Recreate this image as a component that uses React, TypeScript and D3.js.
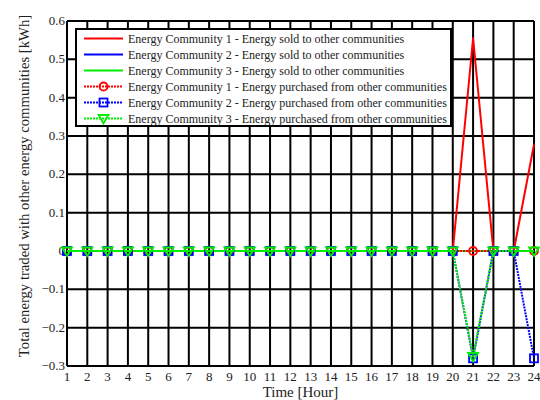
import React, { useEffect, useRef } from 'react';
import * as d3 from 'd3';

const hours = d3.range(1, 25);
const soldEC1 = [0, 0, 0, 0, 0, 0, 0, 0, 0, 0, 0, 0, 0, 0, 0, 0, 0, 0, 0, 0, 0.555, 0, 0, 0.278];
const soldEC2 = [0, 0, 0, 0, 0, 0, 0, 0, 0, 0, 0, 0, 0, 0, 0, 0, 0, 0, 0, 0, 0, 0, 0, 0];
const soldEC3 = [0, 0, 0, 0, 0, 0, 0, 0, 0, 0, 0, 0, 0, 0, 0, 0, 0, 0, 0, 0, 0, 0, 0, 0];
const purchEC1 = [0, 0, 0, 0, 0, 0, 0, 0, 0, 0, 0, 0, 0, 0, 0, 0, 0, 0, 0, 0, 0, 0, 0, 0];
const purchEC2 = [0, 0, 0, 0, 0, 0, 0, 0, 0, 0, 0, 0, 0, 0, 0, 0, 0, 0, 0, 0, -0.28, 0, 0, -0.28];
const purchEC3 = [0, 0, 0, 0, 0, 0, 0, 0, 0, 0, 0, 0, 0, 0, 0, 0, 0, 0, 0, 0, -0.275, 0, 0, 0];
const yTicks = [-0.3, -0.2, -0.1, 0, 0.1, 0.2, 0.3, 0.4, 0.5, 0.6];

const series = [
  { name: 'Energy Community 1 - Energy sold to other communities', values: soldEC1, color: '#ff0000', dashed: false, marker: null },
  { name: 'Energy Community 2 - Energy sold to other communities', values: soldEC2, color: '#0000ff', dashed: false, marker: null },
  { name: 'Energy Community 3 - Energy sold to other communities', values: soldEC3, color: '#00ee00', dashed: false, marker: null },
  { name: 'Energy Community 1 - Energy purchased from other communities', values: purchEC1, color: '#ff0000', dashed: true, marker: 'circle' },
  { name: 'Energy Community 2 - Energy purchased from other communities', values: purchEC2, color: '#0000ff', dashed: true, marker: 'square' },
  { name: 'Energy Community 3 - Energy purchased from other communities', values: purchEC3, color: '#00ee00', dashed: true, marker: 'triangle' },
];

const FONT = "'Liberation Serif', 'DejaVu Serif', serif";

function drawMarker(g: any, type: string | null, cx: number, cy: number, color: string) {
  if (type === 'circle') {
    g.append('circle').attr('cx', cx).attr('cy', cy).attr('r', 4)
      .attr('fill', 'none').attr('stroke', color).attr('stroke-width', 1.8);
  } else if (type === 'square') {
    g.append('rect').attr('x', cx - 4).attr('y', cy - 4).attr('width', 8).attr('height', 8)
      .attr('fill', 'none').attr('stroke', color).attr('stroke-width', 1.8);
  } else if (type === 'triangle') {
    g.append('path')
      .attr('d', `M${cx - 5},${cy - 3.5}L${cx + 5},${cy - 3.5}L${cx},${cy + 5}Z`)
      .attr('fill', 'none').attr('stroke', color).attr('stroke-width', 1.8);
  }
}

function Chart() {
  const ref = useRef<SVGSVGElement>(null);

  useEffect(() => {
    const svg = d3.select(ref.current);
    svg.selectAll('*').remove();
    const width = 540;
    const height = 400;
    const margin = { top: 21, right: 5, bottom: 34, left: 67 };

    const x = d3.scaleLinear().domain([1, 24]).range([margin.left, width - margin.right - 1]);
    const y = d3.scaleLinear().domain([-0.3, 0.6]).range([height - margin.bottom, margin.top]);

    svg.append('rect').attr('width', width).attr('height', height).attr('fill', '#fff');

    // grid
    const grid = svg.append('g').attr('stroke', '#000').attr('stroke-width', 2);
    hours.forEach(h => {
      grid.append('line').attr('x1', x(h)).attr('x2', x(h)).attr('y1', y(0.6)).attr('y2', y(-0.3));
    });
    yTicks.forEach(t => {
      grid.append('line').attr('x1', x(1)).attr('x2', x(24)).attr('y1', y(t)).attr('y2', y(t));
    });

    // tick labels
    svg.append('g').selectAll('text').data(hours).join('text')
      .attr('x', d => x(d)).attr('y', y(-0.3) + 15)
      .attr('text-anchor', 'middle').style('font-family', FONT).style('font-size', '13px')
      .attr('fill', '#222')
      .text(d => d);
    svg.append('g').selectAll('text').data(yTicks).join('text')
      .attr('x', x(1) - 2).attr('y', d => y(d) + 4)
      .attr('text-anchor', 'end').style('font-family', FONT).style('font-size', '13px')
      .attr('fill', '#222')
      .text(d => d3.format('.1~f')(d));

    // lines
    const line = d3.line<number>().x((d, i) => x(hours[i])).y(d => y(d));
    series.forEach(s => {
      svg.append('path').datum(s.values).attr('d', line)
        .attr('fill', 'none').attr('stroke', s.color).attr('stroke-width', 2)
        .attr('stroke-dasharray', s.dashed ? '2,1' : null)
        .attr('stroke-linejoin', 'round');
      if (s.marker) {
        const mg = svg.append('g');
        s.values.forEach((v, i) => drawMarker(mg, s.marker, x(hours[i]), y(v), s.color));
      }
    });

    // legend
    const lg = svg.append('g').attr('transform', 'translate(76,29)');
    lg.append('rect').attr('width', 375).attr('height', 97)
      .attr('fill', '#fff').attr('stroke', '#000').attr('stroke-width', 2);
    series.forEach((s, i) => {
      const ly = 9.5 + i * 16;
      lg.append('line').attr('x1', 8).attr('x2', 47).attr('y1', ly).attr('y2', ly)
        .attr('stroke', s.color).attr('stroke-width', 2)
        .attr('stroke-dasharray', s.dashed ? '2,1' : null);
      drawMarker(lg, s.marker, 27.5, ly, s.color);
      lg.append('text').attr('x', 52).attr('y', ly + 4)
        .style('font-family', FONT).style('font-size', '12px').attr('fill', '#222')
        .text(s.name);
    });

    // axis titles
    svg.append('text').attr('x', (x(1) + x(24)) / 2).attr('y', height - 3)
      .attr('text-anchor', 'middle').style('font-family', FONT).style('font-size', '15px')
      .attr('fill', '#222')
      .text('Time [Hour]');
    svg.append('text')
      .attr('transform', 'translate(29,186) rotate(-90)')
      .attr('text-anchor', 'middle').style('font-family', FONT).style('font-size', '14.7px')
      .attr('fill', '#222')
      .text('Total energy traded with other energy communities [kWh]');
  });

  return <svg ref={ref} width={540} height={400} style={{ display: 'block' }} />;
}

export default function App() {
  return (
    <div style={{ position: 'absolute', left: 0, top: 0 }}>
      <Chart />
    </div>
  );
}
